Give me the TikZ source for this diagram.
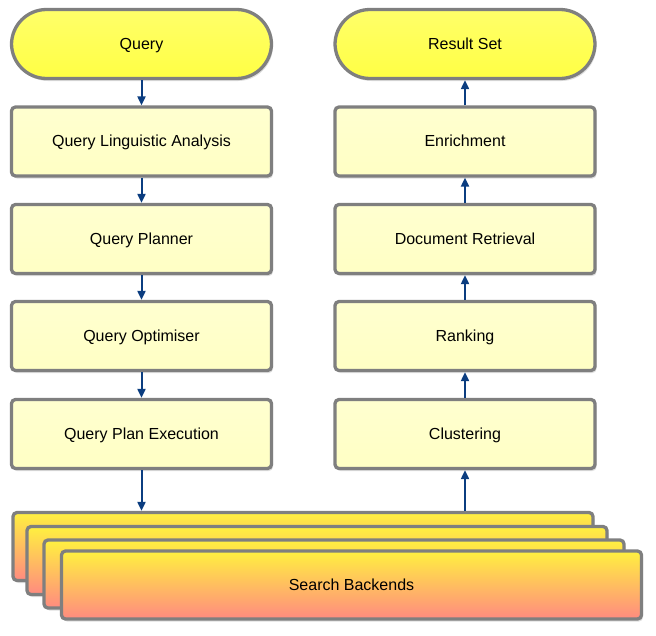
\documentclass[tikz,border=0pt]{standalone}
\usepackage{fontspec}
\setmainfont{Liberation Sans}
\usetikzlibrary{arrows.meta,shadows}
\definecolor{bordergray}{HTML}{7F7F7F}
\definecolor{arrowblue}{HTML}{0B3D80}
\definecolor{termyellow}{HTML}{FFFF44}
\definecolor{boxyellow}{HTML}{FFFFC4}
\definecolor{sbtop}{HTML}{FFF040}
\definecolor{sbbot}{HTML}{FF8A80}
\tikzset{
  base/.style={draw=bordergray, line width=3.3pt, font=\fontsize{16}{19}\selectfont,
    text height=11.5pt, text depth=1.5pt,
    drop shadow={opacity=0.25, shadow xshift=1.5pt, shadow yshift=-2.5pt}},
  term/.style={base, rounded corners=35pt, minimum width=260pt, minimum height=69pt,
    top color=termyellow!80!white, bottom color=termyellow},
  procbox/.style={base, rounded corners=4pt, minimum width=260pt, minimum height=69pt,
    top color=boxyellow!80!white, bottom color=boxyellow},
  backend/.style={base, rounded corners=4pt, minimum width=580pt, minimum height=68pt,
    top color=sbtop, bottom color=sbbot},
  arr/.style={draw=arrowblue, line width=2pt, -{Triangle[length=9pt,width=8pt]}}
}
\begin{document}
\begin{tikzpicture}[x=1pt,y=-1pt]
\useasboundingbox (0,0) rectangle (656,635);
% left column
\node[term] (q) at (141.5,44) {Query};
\node[procbox] (qla) at (141.5,141.5) {Query Linguistic Analysis};
\node[procbox] (qp) at (141.5,239) {Query Planner};
\node[procbox] (qo) at (141.5,336) {Query Optimiser};
\node[procbox] (qpe) at (141.5,434) {Query Plan Execution};
% right column
\node[term] (rs) at (465,44) {Result Set};
\node[procbox] (en) at (465,141.5) {Enrichment};
\node[procbox] (dr) at (465,239) {Document Retrieval};
\node[procbox] (rk) at (465,336) {Ranking};
\node[procbox] (cl) at (465,434) {Clustering};
% backends
\node[backend] (sb1) at (303,546.5) {};
\node[backend] (sb2) at (317,560.5) {};
\node[backend] (sb3) at (334,574) {};
\node[backend] (sb4) at (351.5,585) {Search Backends};
% arrows
\draw[arr] (q.south) -- (qla.north);
\draw[arr] (qla.south) -- (qp.north);
\draw[arr] (qp.south) -- (qo.north);
\draw[arr] (qo.south) -- (qpe.north);
\draw[arr] (qpe.south) -- (qpe.south |- sb1.north);
\draw[arr] (cl.south |- sb1.north) -- (cl.south);
\draw[arr] (rk.north) -- (dr.south);
\draw[arr] (cl.north) -- (rk.south);
\draw[arr] (dr.north) -- (en.south);
\draw[arr] (en.north) -- (rs.south);
\end{tikzpicture}
\end{document}
